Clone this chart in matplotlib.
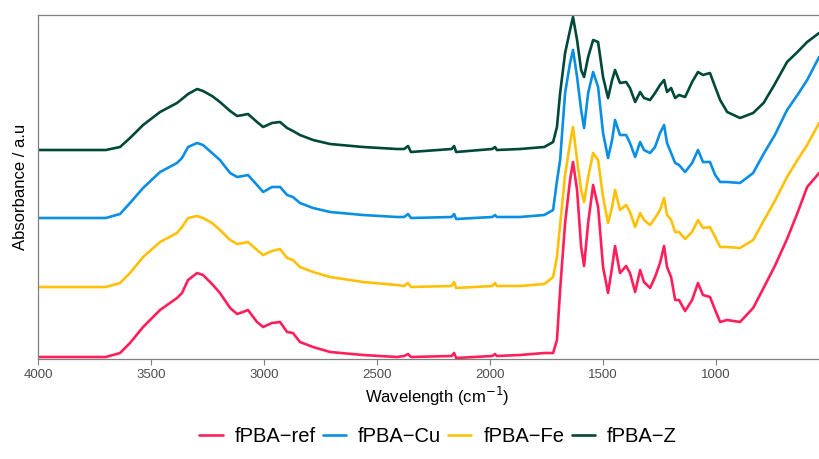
import matplotlib
matplotlib.use("Agg")
import matplotlib.pyplot as plt

plt.rcParams['font.family'] = ['Liberation Sans', 'DejaVu Sans']

# wavenumbers (cm-1) of the read-off points
wavenumber = [4000, 3700, 3637, 3593, 3535, 3460, 3385, 3363, 3336, 3296, 3270, 3230,
              3195, 3150, 3119, 3093, 3071, 3031, 3004, 2965, 2929, 2898, 2872, 2841,
              2783, 2708, 2562, 2412,
              2380, 2363, 2350, 2170, 2159, 2150, 1990, 1978, 1970, 1867, 1760,
              1721, 1704, 1690, 1668, 1646, 1633, 1615, 1597, 1584, 1566,
              1544, 1522, 1500, 1478, 1460, 1447, 1425, 1398, 1381, 1358,
              1336, 1319, 1292, 1270, 1248, 1230, 1217, 1199, 1181, 1164,
              1137, 1106, 1080, 1058, 1027, 1004, 982, 951, 894, 836,
              790, 740, 686, 640, 597, 544]

# absorbance (a.u.), each relative to its own baseline
fpba_ref = [0, 0, 4, 14, 30, 47, 59, 64, 77, 84, 82, 73,
            64, 49, 43, 45, 47, 35, 30, 34, 35, 25, 24, 15,
            10, 5, 2, 0,
            1, 3, 0, 1, 4, -1, 1, 3, 1, 2, 4,
            4, 17, 67, 134, 177, 195, 167, 110, 91, 134,
            172, 150, 90, 64, 90, 111, 84, 91, 84, 65,
            87, 75, 69, 80, 94, 111, 90, 80, 57, 57,
            46, 57, 74, 62, 60, 47, 35, 37, 35, 49,
            69, 91, 118, 144, 170, 184]
fpba_cu = [0, 0, 4, 15, 30, 46, 55, 60, 71, 75, 73, 65,
           58, 45, 41, 42, 43, 33, 26, 31, 31, 23, 21, 15,
           10, 6, 3, 1,
           1, 4, 0, 1, 4, -1, 1, 3, 1, 1, 3,
           8, 37, 58, 125, 155, 168, 141, 108, 90, 125,
           146, 131, 85, 60, 78, 98, 83, 83, 75, 61,
           76, 68, 65, 71, 85, 93, 75, 65, 55, 53,
           46, 55, 68, 56, 56, 43, 36, 36, 35, 45,
           64, 83, 108, 123, 138, 161]
fpba_fe = [0, 0, 4, 14, 30, 45, 54, 60, 69, 71, 69, 64,
           57, 47, 43, 44, 45, 37, 32, 36, 38, 29, 27, 20,
           15, 10, 5, 2,
           1, 4, 0, 1, 5, -1, 1, 4, 1, 1, 3,
           10, 30, 62, 112, 144, 160, 127, 97, 85, 110,
           134, 127, 90, 64, 80, 97, 77, 82, 75, 60,
           74, 67, 62, 69, 77, 89, 72, 67, 55, 55,
           48, 55, 67, 59, 60, 50, 40, 40, 39, 47,
           66, 86, 110, 127, 142, 164]
fpba_z = [0, 0, 3, 12, 25, 38, 47, 51, 56, 61, 59, 54,
          48, 39, 34, 35, 36, 28, 23, 27, 28, 22, 19, 15,
          10, 6, 3, 1,
          1, 4, -2, 1, 4, -2, 1, 3, 0, 1, 3,
          8, 23, 57, 97, 120, 133, 110, 80, 73, 93,
          110, 108, 73, 52, 70, 80, 67, 68, 62, 48,
          58, 52, 50, 57, 65, 70, 58, 62, 52, 55,
          53, 68, 78, 75, 77, 63, 50, 38, 32, 37,
          47, 66, 88, 98, 108, 117]

labels = ['fPBA\u2212ref', 'fPBA\u2212Cu', 'fPBA\u2212Fe', 'fPBA\u2212Z']
offsets = [0, 139, 70, 207]
colors = ['#FF1F5B', '#0A8FE3', '#FFC107', '#00493A']
series = [fpba_ref, fpba_cu, fpba_fe, fpba_z]

fig = plt.figure(figsize=(8.19, 4.59), dpi=100)
# panel runs a little past the right edge of the picture
ax = fig.add_axes([38 / 819, 1 - 359 / 459, (837 - 38) / 819, 344 / 459])

for ys, off, col, lab in zip(series, offsets, colors, labels):
    ax.plot(wavenumber, [v + off for v in ys], color=col, lw=1.9, label=lab,
            solid_joinstyle='round', solid_capstyle='round')

ax.set_xlim(4000, 465)
ax.set_ylim(-2, 342)
ax.set_xticks([4000, 3500, 3000, 2500, 2000, 1500, 1000])
ax.set_yticks([])
ax.tick_params(axis='x', colors='#7f7f7f', length=4, width=0.8,
               labelsize=9.5, labelcolor='#4d4d4d', pad=3)
for s in ax.spines.values():
    s.set_color('#7f7f7f')
    s.set_linewidth(0.9)

ax.set_xlabel('Wavelength (cm$^{-1}$)', fontsize=12, labelpad=3)
ax.set_ylabel('Absorbance / a.u', fontsize=12, labelpad=7)

fig.legend(loc='center', bbox_to_anchor=(438 / 819, 1 - 437 / 459), ncol=4,
           frameon=False, fontsize=14.5, handlelength=1.15, handletextpad=0.6,
           columnspacing=0.35)

fig.savefig('out.png', dpi=100)
